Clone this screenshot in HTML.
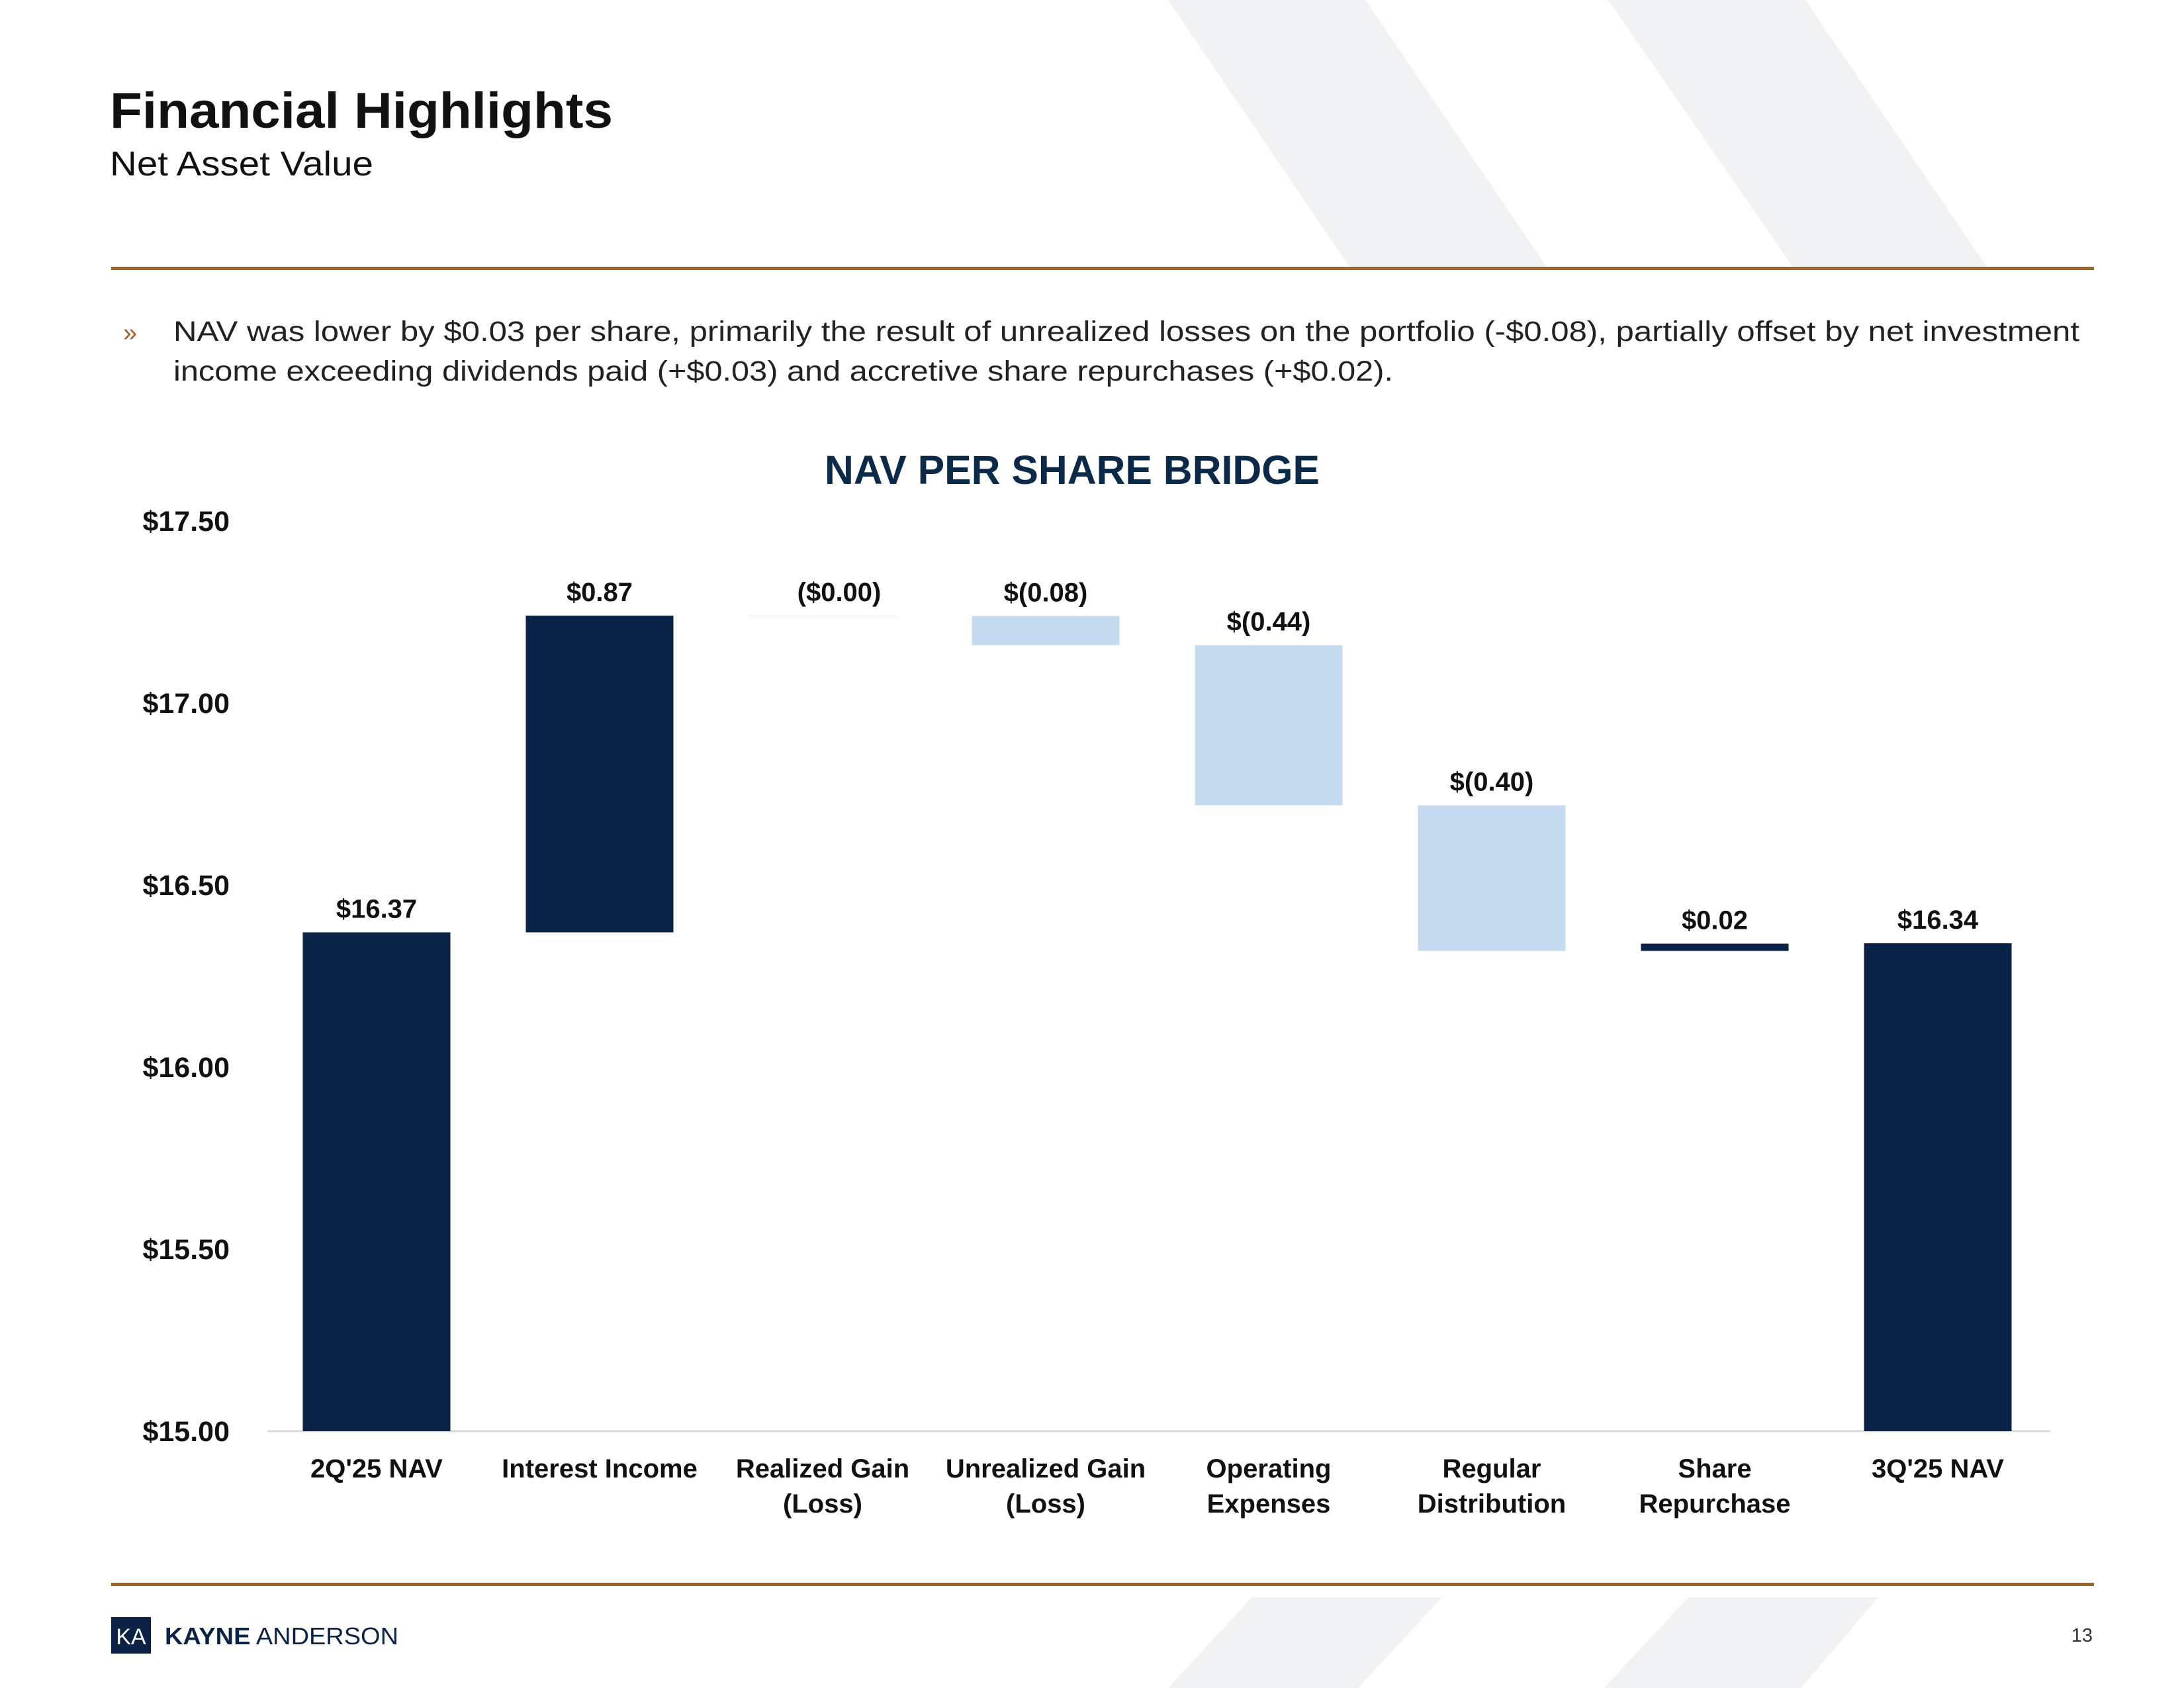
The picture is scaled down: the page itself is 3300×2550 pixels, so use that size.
<!DOCTYPE html>
<html><head><meta charset="utf-8"><style>
html,body{margin:0;padding:0;background:#fff}
svg{display:block}
text{font-family:"Liberation Sans",sans-serif}
</style></head><body>
<svg id="slide" width="3300" height="2550" viewBox="0 0 3300 2550" xmlns="http://www.w3.org/2000/svg">
<g fill="#f1f2f4">
<polygon points="1765,0 2063,0 2339,406 2041,406"/>
<polygon points="2430,0 2728,0 3004,406 2711,406"/>
<polygon points="1892,2413 2179,2413 2052,2550 1765,2550"/>
<polygon points="2551,2413 2838,2413 2721,2550 2424,2550"/>
</g>
<text x="166" y="193" font-size="76" font-weight="bold" fill="#111" textLength="760" lengthAdjust="spacingAndGlyphs">Financial Highlights</text>
<text x="166" y="265" font-size="52" fill="#111" textLength="398" lengthAdjust="spacingAndGlyphs">Net Asset Value</text>
<rect x="168" y="403" width="2996" height="5" fill="#9c6524"/>
<text x="186" y="515" font-size="38" fill="#a0622a">»</text>
<text x="262" y="515" font-size="43" fill="#222" textLength="2880" lengthAdjust="spacingAndGlyphs">NAV was lower by $0.03 per share, primarily the result of unrealized losses on the portfolio (-$0.08), partially offset by net investment</text>
<text x="262" y="575" font-size="43" fill="#222" textLength="1843" lengthAdjust="spacingAndGlyphs">income exceeding dividends paid (+$0.03) and accretive share repurchases (+$0.02).</text>
<text x="1620" y="731" font-size="61" font-weight="bold" fill="#0b2a4a" text-anchor="middle" textLength="748" lengthAdjust="spacingAndGlyphs">NAV PER SHARE BRIDGE</text>
<g id="chart"></g>
<rect x="168" y="2391" width="2996" height="5" fill="#9c6524"/>
<g>
<rect x="168" y="2443" width="60" height="55" fill="#0a2246"/>
<text x="198" y="2484" font-size="34" fill="#fff" text-anchor="middle">KA</text>
<text x="249" y="2484" font-size="36" fill="#0a2246" textLength="353" lengthAdjust="spacingAndGlyphs"><tspan font-weight="bold">KAYNE</tspan> ANDERSON</text>
</g>
<text x="3162" y="2480" font-size="29" fill="#333" text-anchor="end">13</text>
</svg>
<script>
const categories = ["2Q'25 NAV|", "Interest Income|", "Realized Gain|(Loss)", "Unrealized Gain|(Loss)", "Operating|Expenses", "Regular|Distribution", "Share|Repurchase", "3Q'25 NAV|"];
const deltas = [16.37, 0.87, -0.001, -0.08, -0.44, -0.40, 0.02, 16.34];
const kinds = ["total", "up", "down", "down", "down", "down", "up", "total"];
const valueLabels = ["$16.37", "$0.87", "($0.00)", "$(0.08)", "$(0.44)", "$(0.40)", "$0.02", "$16.34"];
const yTicks = [15.0, 15.5, 16.0, 16.5, 17.0, 17.5];
const yTickLabels = ["$15.00", "$15.50", "$16.00", "$16.50", "$17.00", "$17.50"];

const NS = "http://www.w3.org/2000/svg";
const g = document.getElementById('chart');
const yMin = 15, yMax = 17.5, yBottom = 2162, yTop = 787;
function y(v){ return yBottom - (v - yMin) / (yMax - yMin) * (yBottom - yTop); }
const x0 = 569, pitch = 337, barW = 223;
function xc(i){ return x0 + i * pitch; }
function mk(tag, attrs){ const e = document.createElementNS(NS, tag); for (const k in attrs) e.setAttribute(k, attrs[k]); g.appendChild(e); return e; }

yTicks.forEach((t, i) => {
  const e = mk('text', {x: 347, y: y(t) + 15, 'font-size': 43, 'font-weight': 'bold', fill: '#111', 'text-anchor': 'end'});
  e.textContent = yTickLabels[i];
  
  
});
const axis = mk('line', {x1: 404, x2: 3098, y1: yBottom, y2: yBottom, stroke: '#d9d9d9', 'stroke-width': 3});



let run = 0;
categories.forEach((c, i) => {
  let lo, hi, color;
  if (kinds[i] === 'total') { lo = yMin; hi = deltas[i]; run = deltas[i]; color = '#0a2246'; }
  else { const s = run; run = run + deltas[i]; lo = Math.min(s, run); hi = Math.max(s, run); color = kinds[i] === 'up' ? '#0a2246' : '#c5dbef'; }
  const b = mk('rect', {x: xc(i) - barW / 2, y: y(hi), width: barW, height: Math.max(0, y(lo) - y(hi)), fill: color});
  
  
  const vl = mk('text', {x: xc(i) + (i === 2 ? 25 : 0), y: y(hi) - 22, 'font-size': 40, 'font-weight': 'bold', fill: '#111', 'text-anchor': 'middle'});
  vl.textContent = valueLabels[i];
  
  
  c.split('|').forEach((ln, j) => {
    if (!ln) return;
    const t = mk('text', {x: xc(i), y: 2232 + j * 53, 'font-size': 40, 'font-weight': 'bold', fill: '#111', 'text-anchor': 'middle'});
    t.textContent = ln;
    
    
  });
});
</script>
</body></html>
